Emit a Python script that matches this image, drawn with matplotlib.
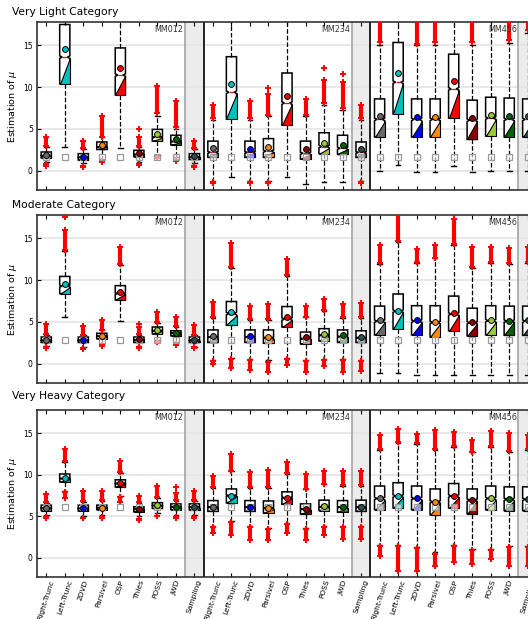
import numpy as np
import matplotlib.pyplot as plt
from matplotlib.patches import Polygon

methods = ['Right-Trunc', 'Left-Trunc', '2DVD', 'Parsivel', 'OSP', 'Thies', 'POSS', 'JWD', 'Sampling']
method_colors = ['dimgray', 'c', 'blue', 'darkorange', 'red', 'darkred', 'yellowgreen', 'darkgreen', 'darkslategray']
mm_groups = ['MM012', 'MM234', 'MM456']
categories = ['Very Light Category', 'Moderate Category', 'Very Heavy Category']
true_mu = [1.7, 2.9, 6.1]

# ---- Very Light (27 boxes: MM012, MM234, MM456 x 9 methods)
vl_q1 = [1.55, 10.4, 1.3, 2.55, 9.1, 1.7, 3.55, 3.1, 1.35,
         1.6, 6.2, 1.6, 1.6, 5.45, 1.4, 2.05, 1.95, 1.6,
         4.05, 6.8, 4.05, 4.05, 6.3, 3.75, 4.15, 4.05, 4.05]
vl_med = [1.8, 13.6, 1.6, 2.85, 11.45, 1.95, 4.0, 3.5, 1.65,
          2.2, 9.4, 2.2, 2.35, 8.1, 2.1, 2.9, 2.7, 2.2,
          6.15, 10.6, 6.15, 6.15, 9.8, 6.05, 6.3, 6.15, 6.15]
vl_q3 = [2.25, 17.5, 2.05, 3.45, 14.7, 2.45, 4.95, 4.25, 2.05,
         3.55, 13.65, 3.55, 3.85, 11.7, 3.55, 4.55, 4.25, 3.45,
         8.6, 15.35, 8.6, 8.6, 13.95, 8.45, 8.8, 8.7, 8.6]
vl_wlo = [1.0, 2.8, 0.9, 1.4, 2.75, 1.1, 1.9, 1.6, 0.9,
          -1.25, -0.7, -1.25, -1.25, -0.8, -1.6, -1.4, -1.4, -1.25,
          0.0, 0.75, -0.1, -0.1, 0.55, -0.15, 0.0, -0.05, 0.0]
vl_whi = [2.9, 19, 2.6, 4.0, 19, 2.9, 6.6, 5.0, 2.6,
          6.1, 19, 6.1, 6.5, 19, 6.5, 7.9, 7.3, 6.1,
          15.1, 19, 15.0, 15.1, 19, 15.1, 19, 15.3, 16.5]
vl_mean = [1.9, 14.55, 1.7, 3.1, 12.25, 2.1, 4.35, 3.75, 1.75,
           2.75, 10.4, 2.65, 2.85, 8.95, 2.6, 3.35, 3.1, 2.6,
           6.5, 11.75, 6.45, 6.45, 10.75, 6.3, 6.7, 6.5, 6.5]
vl_fhi = [(3.0, 4.0), None, (2.7, 3.6), (4.1, 6.6), None, (3.0, 4.1), (6.9, 10.2), (5.2, 8.3), (2.7, 3.6),
          (6.3, 7.9), None, (6.3, 8.3), (6.7, 9.2), None, (6.7, 8.6), (8.1, 10.9), (7.5, 10.6), (6.3, 7.9),
          (15.4, 19), None, (15.2, 19), (15.4, 19), None, (15.4, 19), None, (15.6, 19), (16.8, 19)]
vl_flo = [(0.6, 0.8), None, (0.5, 0.6), (1.0, 1.2), None, (0.75, 0.85), (1.5, 1.6), (1.2, 1.3), (0.5, 0.6),
          (-1.45, -1.35), None, (-1.45, -1.35), (-1.45, -1.35), None, None, None, None, (-1.45, -1.35),
          None, None, None, None, None, None, None, None, None]
vl_extra = [(6, 5.05), (13, 9.9), (16, 12.35), (17, 11.55)]

# ---- Moderate
md_q1 = [2.55, 8.4, 2.55, 3.0, 7.65, 2.55, 3.6, 3.35, 2.55,
         2.55, 4.6, 2.55, 2.45, 4.4, 2.4, 2.75, 2.55, 2.55,
         3.45, 4.15, 3.45, 3.2, 3.95, 3.35, 3.45, 3.4, 3.4]
md_med = [2.8, 9.3, 2.8, 3.3, 8.4, 2.85, 3.95, 3.65, 2.8,
          3.2, 6.0, 3.2, 3.1, 5.35, 3.0, 3.4, 3.25, 3.1,
          5.1, 6.3, 5.1, 4.95, 5.95, 4.9, 5.15, 5.1, 5.1]
md_q3 = [3.2, 10.45, 3.2, 3.65, 9.35, 3.2, 4.4, 3.95, 3.2,
         4.05, 7.45, 4.05, 4.05, 6.85, 3.8, 4.2, 4.05, 3.95,
         6.9, 8.35, 6.95, 6.95, 8.1, 6.65, 6.95, 6.9, 6.9]
md_wlo = [2.1, 5.55, 2.0, 2.4, 5.15, 2.1, 2.9, 2.6, 2.05,
          0.45, 0.75, 0.55, 0.4, 0.75, 0.45, 0.6, 0.55, 0.45,
          -1.15, -1.15, -1.3, -1.3, -1.3, -1.3, -1.4, -1.4, -1.4]
md_whi = [3.5, 13.5, 3.4, 4.0, 11.8, 3.45, 4.85, 4.45, 3.4,
          5.5, 11.5, 5.25, 5.25, 10.5, 5.55, 6.3, 5.45, 5.45,
          11.9, 14.6, 12.1, 12.6, 14.2, 11.5, 12.1, 11.9, 12.1]
md_mean = [2.85, 9.55, 2.8, 3.35, 8.55, 2.95, 4.0, 3.65, 2.9,
           3.35, 6.15, 3.35, 3.25, 5.65, 3.15, 3.55, 3.4, 3.2,
           5.25, 6.35, 5.2, 5.05, 6.05, 4.95, 5.25, 5.15, 5.25]
md_fhi = [(3.6, 4.7), (13.6, 16.0), (3.5, 4.5), (4.1, 5.2), (11.9, 14.0), (3.55, 4.4), (4.95, 6.15), (4.55, 5.6), (3.5, 4.6),
          (5.65, 7.35), (11.6, 14.5), (5.35, 6.9), (5.35, 7.15), (10.6, 12.5), (5.65, 6.95), (6.45, 7.7), (5.55, 7.15), (5.55, 7.25),
          (12.0, 14.2), (14.7, 17.9), (12.2, 13.7), (12.7, 14.2), (14.3, 17.3), (11.6, 14.0), (12.2, 14.0), (12.0, 13.8), (12.2, 14.0)]
md_flo = [(1.85, 1.95), None, (1.8, 1.9), (2.15, 2.25), None, (1.9, 2.0), (2.55, 2.65), (2.3, 2.4), (1.85, 1.95),
          (0.0, 0.3), (-0.5, 0.6), (-0.75, 0.45), (-1.0, 0.25), (-0.15, 0.6), (-1.0, 0.3), (-0.3, 0.45), (-1.0, 0.4), (-0.9, 0.3),
          None, None, None, None, None, None, None, None, None]
md_extra = [(2, 17.6), (6, 4.8)]

# ---- Very Heavy
vh_q1 = [5.7, 9.15, 5.65, 5.8, 8.55, 5.55, 5.95, 5.8, 5.8,
         5.6, 6.65, 5.6, 5.4, 6.45, 5.3, 5.7, 5.5, 5.6,
         5.8, 6.0, 5.8, 5.2, 6.0, 5.3, 5.8, 5.7, 5.7]
vh_med = [6.0, 9.55, 5.95, 6.05, 8.95, 5.85, 6.3, 6.15, 6.1,
          6.1, 7.5, 6.1, 6.0, 7.25, 5.85, 6.15, 6.1, 6.1,
          7.15, 7.45, 7.15, 6.75, 7.45, 6.95, 7.15, 7.05, 7.05]
vh_q3 = [6.35, 10.1, 6.35, 6.35, 9.4, 6.15, 6.65, 6.5, 6.5,
         6.9, 8.3, 6.9, 6.85, 7.95, 6.5, 6.95, 6.9, 6.95,
         8.65, 9.05, 8.65, 8.3, 8.95, 8.3, 8.65, 8.55, 8.55]
vh_wlo = [5.2, 8.0, 5.1, 5.2, 7.5, 5.0, 5.45, 5.2, 5.2,
          3.8, 4.4, 3.8, 3.6, 4.2, 3.6, 3.8, 3.8, 3.8,
          1.5, 1.5, 1.3, 0.65, 1.5, 1.05, 1.1, 1.4, 1.4]
vh_whi = [6.65, 11.6, 6.75, 6.85, 10.25, 6.65, 7.25, 6.85, 6.85,
          8.45, 10.4, 8.45, 8.45, 10.1, 8.25, 8.85, 8.65, 8.65,
          13.0, 13.8, 13.7, 13.0, 13.4, 12.7, 13.4, 12.8, 13.0]
vh_mean = [6.05, 9.65, 6.05, 6.05, 9.0, 5.85, 6.35, 6.15, 6.15,
           6.15, 7.45, 6.15, 6.05, 7.25, 5.85, 6.2, 6.15, 6.15,
           7.15, 7.45, 7.15, 6.75, 7.45, 6.95, 7.15, 7.05, 7.05]
vh_fhi = [(6.75, 7.75), (11.7, 13.1), (6.85, 8.1), (6.95, 8.1), (10.35, 11.7), (6.75, 7.45), (7.35, 8.7), (6.95, 7.8), (6.95, 8.0),
          (8.55, 9.8), (10.5, 12.5), (8.55, 10.3), (8.55, 10.6), (10.2, 11.6), (8.35, 10.05), (8.95, 10.5), (8.75, 10.4), (8.75, 10.4),
          (13.1, 14.75), (13.9, 15.55), (13.8, 14.9), (13.1, 15.35), (13.5, 15.2), (12.8, 14.2), (13.5, 15.3), (12.9, 15.0), (13.1, 14.8)]
vh_flo = [(4.8, 4.9), (7.15, 7.9), (4.75, 4.85), (4.8, 4.9), (6.75, 7.35), (4.55, 4.65), (5.0, 5.1), (4.8, 4.9), (4.8, 4.9),
          (3.0, 3.7), (2.8, 4.3), (2.15, 3.7), (2.2, 3.5), (3.0, 4.1), (2.2, 3.5), (2.75, 3.7), (2.3, 3.7), (2.3, 3.7),
          (0.25, 1.4), (-1.55, 1.4), (-1.55, 1.2), (-0.95, 0.45), (-0.55, 1.4), (-0.75, 0.95), (-0.15, 1.0), (-0.95, 1.3), (-0.95, 1.3)]
vh_extra = [(8, 8.5)]

rows = [
    (vl_q1, vl_med, vl_q3, vl_wlo, vl_whi, vl_mean, vl_fhi, vl_flo, vl_extra),
    (md_q1, md_med, md_q3, md_wlo, md_whi, md_mean, md_fhi, md_flo, md_extra),
    (vh_q1, vh_med, vh_q3, vh_wlo, vh_whi, vh_mean, vh_fhi, vh_flo, vh_extra),
]

W, H = 528, 619
fig = plt.figure(figsize=(W / 100, H / 100), dpi=100)

ax_left = 37 / W
ax_width = 500 / W
row_tops = [22, 215, 410]
row_bottoms = [190, 383, 577]
title_base = [15, 208, 399]

box_w = 0.55
pos = np.arange(1, 28)
labels = methods * 3
colors = method_colors * 3

for r, (q1, med, q3, wlo, whi, mean, fhi, flo, extra) in enumerate(rows):
    ax = fig.add_axes([ax_left, 1 - row_bottoms[r] / H, ax_width, (row_bottoms[r] - row_tops[r]) / H])

    stats = []
    for i in range(27):
        d = min(0.15, 0.06 * (q3[i] - q1[i]))  # shallow notch, just for looks
        stats.append(dict(q1=q1[i], med=med[i], q3=q3[i], whislo=wlo[i], whishi=whi[i],
                          mean=mean[i], fliers=[], cilo=med[i] - d, cihi=med[i] + d))

    bp = ax.bxp(stats, positions=pos, widths=box_w, capwidths=0.25, shownotches=True,
                showmeans=True, showfliers=False, patch_artist=True,
                boxprops=dict(facecolor='white', edgecolor='black', linewidth=1.1),
                whiskerprops=dict(linestyle='--', color='black', linewidth=0.9),
                capprops=dict(color='black', linewidth=1.0),
                medianprops=dict(color='firebrick', linewidth=0.9),
                meanprops=dict(marker='o', markeredgecolor='black', markersize=4.2,
                               markeredgewidth=0.7))

    for i in range(27):
        x = pos[i]
        tri = Polygon([(x - box_w / 2, q1[i]), (x + box_w / 2, q1[i]), (x + box_w / 2, stats[i]['cilo'])],
                      closed=True, facecolor=colors[i], edgecolor='black', linewidth=0.8, zorder=2.1)
        ax.add_patch(tri)
        bp['means'][i].set_markerfacecolor(colors[i])
        bp['means'][i].set_zorder(5)
        for rng in (fhi[i], flo[i]):
            if rng is not None:
                ax.vlines(x, rng[0], rng[1], color='red', linewidth=3.0, zorder=3)
                ax.plot([x, x], rng, '+', color='red', markersize=4.5, markeredgewidth=1.4, zorder=3)

    for (xi, v) in extra:
        ax.plot(xi, v, '+', color='red', markersize=4.5, markeredgewidth=1.4, zorder=3)

    ax.plot(pos, [true_mu[r]] * 27, 's', markerfacecolor=(1, 1, 1, 0.6), markeredgecolor='#999999',
            markersize=4.3, markeredgewidth=0.9, zorder=4, linestyle='none')

    # shaded "Sampling" columns and panel separators
    for g in range(3):
        ax.axvspan(g * 9 + 8.5, g * 9 + 9.5, facecolor='#ececec', edgecolor='none', zorder=0)
        ax.axvline(g * 9 + 8.5, color='#aaaaaa', linewidth=1.3, zorder=1)
        if g < 2:
            ax.axvline(g * 9 + 9.5, color='#222222', linewidth=1.4, zorder=6)
        ax.text(g * 9 + 8.4, 17.4, mm_groups[g], ha='right', va='top', fontsize=5.8, color='#333333')

    ax.set_xlim(0.5, 27.5)
    ax.set_ylim(-2.3, 17.8)
    ax.set_yticks([0, 5, 10, 15])
    ax.set_axisbelow(True)
    ax.yaxis.grid(True, color='#e4e4e4', linewidth=1.2)
    ax.set_xticks(pos)
    if r == 2:
        ax.set_xticklabels(labels, rotation=72, fontsize=5.4)
    else:
        ax.set_xticklabels([])
    ax.tick_params(axis='x', direction='in', top=True, length=3, width=0.8, pad=1.5)
    ax.tick_params(axis='y', direction='in', right=True, length=3, width=0.8, labelsize=5.5, pad=3)
    for sp in ax.spines.values():
        sp.set_color('#333333')
        sp.set_linewidth(1.2)
    ax.set_ylabel('Estimation of $\\mu$', fontsize=6.8, labelpad=3)

    fig.text(12 / W, 1 - title_base[r] / H, categories[r], fontsize=7.7, va='baseline', ha='left')

fig.savefig('out.png', dpi=100)
